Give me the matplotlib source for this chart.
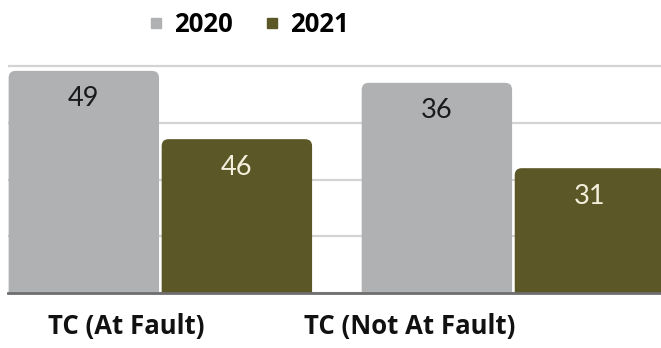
import numpy as np
import matplotlib.pyplot as plt
from matplotlib.patches import FancyBboxPatch
from matplotlib.lines import Line2D

# data
categories = ['TC (At Fault)', 'TC (Not At Fault)']
series = ['2020', '2021']
shown_values = [[49, 36], [46, 31]]          # numbers printed on the bars
bar_heights = [[39.1, 37.0], [27.1, 22.0]]   # drawn lengths (grid step = 10)
colors = ['#b0b1b3', '#5c5726']
label_colors = ['#1a1a1a', '#f3efdc']

fig = plt.figure(figsize=(6.61, 3.48), dpi=100)
ax = fig.add_axes([8 / 661, 0.157, 1 - 8 / 661, 0.6704])

x = np.arange(len(categories))
w = 0.426
gap = 0.0075
px_x = 353.0          # px per x unit
px_y = 5.69           # px per y unit
r = 7 / px_x
aspect = px_x / px_y

for i, name in enumerate(series):
    off = (i - 0.5) * (w + gap)
    bars = ax.bar(x + off, bar_heights[i], width=w, color=colors[i], label=name)
    for rect, val in zip(bars, shown_values[i]):
        rect.set_visible(False)
        bx, bw, bh = rect.get_x(), rect.get_width(), rect.get_height()
        ax.add_patch(FancyBboxPatch((bx, -3), bw, bh + 3,
                                    boxstyle=f"round,pad=0,rounding_size={r}",
                                    mutation_aspect=aspect,
                                    fc=colors[i], ec='none', zorder=2))
        ax.annotate(str(val), (bx + bw / 2, bh), xytext=(0, -28 * 0.72),
                    textcoords='offset points', ha='center', va='center',
                    fontsize=19.5, family='Lato', color=label_colors[i], zorder=3)

ax.set_xlim(-0.4315, 1.418)
ax.set_ylim(0, 41)
ax.set_yticks([0, 10, 20, 30, 40])
ax.yaxis.grid(True, color='#d3d3d3', lw=1.6)
ax.set_axisbelow(True)
ax.tick_params(axis='y', length=0, labelleft=False)
ax.tick_params(axis='x', length=0, pad=14)
for s in ['top', 'left', 'right']:
    ax.spines[s].set_visible(False)
ax.spines['bottom'].set_color('#6e6e6e')
ax.spines['bottom'].set_linewidth(2)

ax.set_xticks([-0.097, 0.707], categories)
for t in ax.get_xticklabels():
    t.set_fontfamily('Open Sans')
    t.set_fontweight('bold')
    t.set_fontsize(18.5)
    t.set_color('#111111')

handles = [Line2D([], [], marker='s', ls='', color=c, markersize=7.2) for c in colors]
fig.legend(handles, series, loc='center', bbox_to_anchor=(0.374, 0.93), ncol=2,
           frameon=False, handlelength=0.8, handletextpad=0.31, columnspacing=1.13,
           prop=dict(family='Open Sans', weight='bold', size=18.5))

fig.savefig('out.png', dpi=100)
